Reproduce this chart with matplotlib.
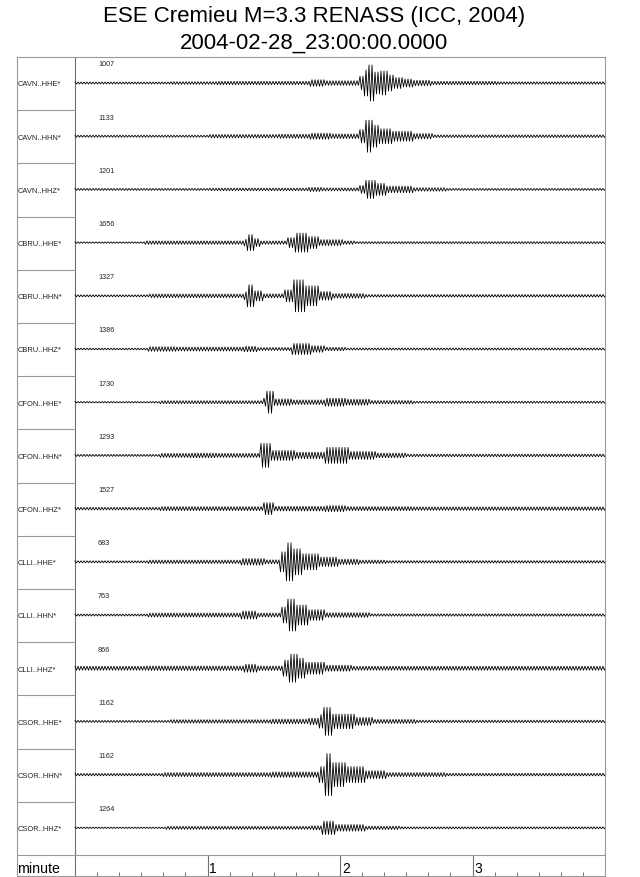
import numpy as np
import matplotlib
matplotlib.use("Agg")
import matplotlib.pyplot as plt

plt.rcParams['font.family'] = ['Liberation Sans', 'DejaVu Sans']

# ---------------- data ----------------
title_lines = ["ESE Cremieu M=3.3 RENASS (ICC, 2004)", "2004-02-28_23:00:00.0000"]
stations = ["CAVN..HHE*", "CAVN..HHN*", "CAVN..HHZ*",
            "CBRU..HHE*", "CBRU..HHN*", "CBRU..HHZ*",
            "CFON..HHE*", "CFON..HHN*", "CFON..HHZ*",
            "CLLI..HHE*", "CLLI..HHN*", "CLLI..HHZ*",
            "CSOR..HHE*", "CSOR..HHN*", "CSOR..HHZ*"]
trace_scales = [1007, 1133, 1201, 1656, 1327, 1386, 1730, 1293, 1527,
                683, 763, 866, 1162, 1162, 1264]
axis_label = "minute"
major_ticks = [1, 2, 3]
duration_min = 4

# Envelope of each trace: (segment end [s], half amplitude)
CAVN_HHE = [(43, 1.0), (64, 1.3), (106, 1.7), (113, 3.3), (129, 2.3), (131, 6.7),
            (133, 13), (135.5, 18), (138.5, 11), (141.5, 12), (144.5, 8), (148.5, 5.5),
            (153, 4), (161, 2.7), (191, 1.7), (240, 1.2)]
CAVN_HHN = [(61, 1.0), (92, 1.7), (106, 2.0), (116, 3.0), (128.6, 2.3), (131.6, 6.7),
            (134.7, 16), (137.8, 11), (144, 7.5), (153, 5), (162, 2.7), (240, 1.3)]
CAVN_HHZ = [(61, 1.0), (105.6, 1.3), (111.7, 2.0), (128.6, 1.5), (131.6, 4),
            (136.2, 9), (140.8, 6), (153, 3.3), (168.4, 1.7), (240, 1.0)]
CBRU_HHE = [(31.4, 0.7), (76.5, 1.7), (78, 3.3), (81, 8), (84.2, 4), (96.4, 1.7),
            (99.5, 5), (105.6, 9.5), (110.2, 6), (121, 3), (127, 1.7), (240, 1.0)]
CBRU_HHN = [(33.7, 1.0), (76.5, 1.8), (77.8, 4), (81, 11), (85, 5), (95, 2),
            (98.7, 6), (104, 16), (110.2, 10), (116.3, 4.3), (131.6, 2.3), (240, 1.3)]
CBRU_HHZ = [(32.9, 0.8), (46, 2.3), (76.5, 2.0), (82.7, 2.7), (98, 1.5), (107, 5.5),
            (113.3, 3.3), (122.4, 1.7), (240, 1.0)]
CFON_HHE = [(38.3, 0.7), (85, 1.5), (86.5, 4), (90.3, 11), (98, 3.3), (113.3, 2.3),
            (122.4, 4), (133.2, 3), (153, 1.7), (240, 1.0)]
CFON_HHN = [(38.3, 1.0), (52, 2.0), (64.3, 2.3), (84.2, 2.0), (88.8, 12), (99.5, 5),
            (113.3, 3.3), (124, 8), (136.2, 4), (150, 2.3), (240, 1.3)]
CFON_HHZ = [(38.3, 1.3), (85, 2.0), (90.3, 6), (113.3, 2.3), (122.4, 3), (153, 2.0),
            (240, 1.7)]
CLLI_HHE = [(32.9, 1.0), (75, 1.7), (85.7, 3.3), (92.6, 2.0), (95.7, 10), (98.7, 19),
            (102.6, 13), (110.2, 8), (119.4, 4.7), (128.6, 2.7), (140.8, 1.7), (240, 1.2)]
CLLI_HHN = [(32.9, 1.0), (75, 2.0), (82.7, 4), (93.4, 2.0), (96.4, 8), (100.3, 16),
            (105.6, 10), (113.3, 5.3), (133.2, 2.3), (240, 1.2)]
CLLI_HHZ = [(32.1, 2.0), (76.5, 2.3), (82.7, 4), (94.1, 2.3), (97, 8), (101, 14),
            (104.1, 10), (113.3, 6), (125.5, 3), (240, 2.0)]
CSOR_HHE = [(42.9, 1.0), (88.8, 1.7), (105.6, 2.3), (110.2, 3.3), (112.5, 6.7),
            (116.3, 14), (127, 7.3), (134.7, 4), (154.6, 2.0), (240, 1.2)]
CSOR_HHN = [(39.8, 1.2), (88.8, 2.0), (110.2, 2.7), (113, 8), (116.3, 21), (122.4, 12),
            (131.6, 8), (140.8, 4), (168.4, 2.0), (240, 1.3)]
CSOR_HHZ = [(41.3, 0.7), (107.1, 1.5), (111.7, 2.0), (117.9, 6.7), (131.6, 3.3),
            (146.9, 1.7), (240, 1.0)]

envelopes = [CAVN_HHE, CAVN_HHN, CAVN_HHZ, CBRU_HHE, CBRU_HHN, CBRU_HHZ,
             CFON_HHE, CFON_HHN, CFON_HHZ, CLLI_HHE, CLLI_HHN, CLLI_HHZ,
             CSOR_HHE, CSOR_HHN, CSOR_HHZ]

# ---------------- layout (pixels) ----------------
W, H = 640, 878
fx0, fx1, fy0, fy1 = 17, 605, 58, 877
sep_x = 75
strip_h = 21
n = len(stations)
row_h = (fy1 - fy0 - strip_h) / n
px_min = (fx1 - sep_x) / duration_min
PT = 72 / 100.0  # points per pixel

fig = plt.figure(figsize=(W / 100, H / 100), dpi=100)
fig.patch.set_facecolor('white')
ax = fig.add_axes([fx0 / W, 1 - fy1 / H, (fx1 - fx0) / W, (fy1 - fy0) / H])
xmin = -(sep_x - fx0) / px_min
ax.set_xlim(xmin, duration_min)
ax.set_ylim(-strip_h / row_h, n)
frame_c = '#9a9a9a'
for s in ax.spines.values():
    s.set_color(frame_c)
    s.set_linewidth(0.8)

ax.axvline(0, color='#707070', lw=0.8)
ax.axhline(0, color=frame_c, lw=0.8)
ax.hlines(np.arange(1, n), xmin, 0, color=frame_c, lw=0.8)

# traces: each envelope segment drawn as a zig-zag, one swing per 1.5 pixels
dt = 1.5 * 60.0 / px_min
t = np.arange(0, duration_min * 60 + dt, dt)
sign = np.where(np.arange(len(t)) % 2 == 0, 1.0, -1.0)
for i, env in enumerate(envelopes):
    ends = np.array([e for e, a in env])
    amps = np.array([a for e, a in env])
    idx = np.clip(np.searchsorted(ends, t, side='right'), 0, len(env) - 1)
    base = n - i - 26.0 / row_h
    y = base + sign * amps[idx] / row_h
    ax.plot(t / 60.0, y, color='black', lw=0.6)
    ax.text(xmin + 1.0 / px_min, base - 1.0 / row_h, stations[i], fontsize=5.4,
            ha='left', va='center', color='#222222')
    ax.text(23.0 / px_min, n - i - 7.0 / row_h, str(trace_scales[i]), fontsize=5.2,
            ha='left', va='center', color='#222222')

# bottom time axis
ax.set_yticks([])
ax.set_xticks(major_ticks)
minor = [k / 6 for k in range(1, duration_min * 6) if k % 6 != 0]
ax.set_xticks(minor, minor=True)
ax.tick_params(axis='x', which='major', direction='in', length=strip_h * PT,
               width=0.8, color='#707070', labelbottom=False)
ax.tick_params(axis='x', which='minor', direction='in', length=4 * PT,
               width=0.7, color='#707070')
label_y = (-strip_h + 4.3) / row_h
for m in major_ticks:
    ax.text(m + 2.0 / px_min, label_y, str(m), fontsize=10, ha='left', va='baseline')
ax.text(xmin + 0.5 / px_min, label_y, axis_label, fontsize=10.3, ha='left', va='baseline')

# title
fig.text(314 / W, 1 - 22 / H, title_lines[0], ha='center', va='baseline', fontsize=16)
fig.text(314 / W, 1 - 48.5 / H, title_lines[1], ha='center', va='baseline', fontsize=16)

fig.savefig('out.png', dpi=100, facecolor='white')
